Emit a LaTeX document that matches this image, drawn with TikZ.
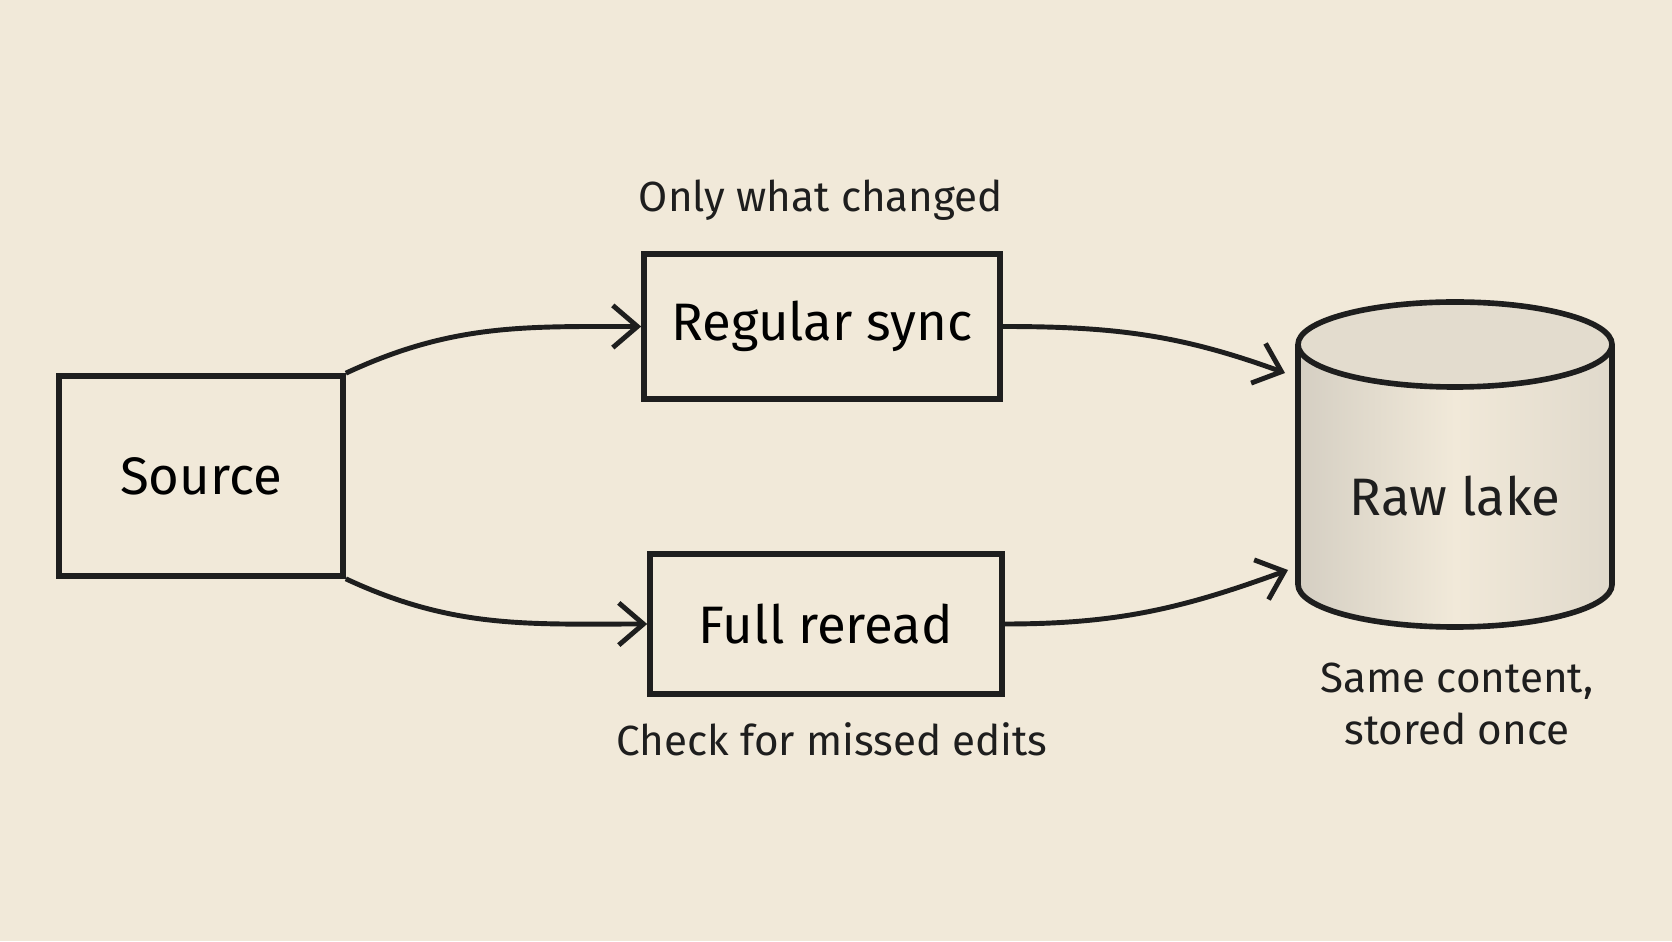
\documentclass[tikz,border=0pt]{standalone}
\usepackage{fontspec}
\setmainfont{Fira Sans}
\usetikzlibrary{arrows.meta}
\definecolor{paper}{HTML}{F1E9D9}
\definecolor{ink}{HTML}{1E1E1E}
\tikzset{
  box/.style={draw=ink, line width=1.6pt, minimum width=#1, font=\fontsize{15}{18}\selectfont},
  note/.style={font=\fontsize{12}{15}\selectfont, text=ink, align=center},
  flow/.style={draw=ink, line width=1.4pt, -{Straight Barb[length=7pt,width=12pt,line width=1.4pt]}}
}
\begin{document}
\begin{tikzpicture}
        % Background
        \fill [paper] (0,0) rectangle (16.72,9.41);
        \useasboundingbox (0,0) rectangle (16.72,9.41);
        % Boxes
        \node[box=2.84cm, minimum height=2cm] (src) at (2.01,4.65) {Source};
        \node[box=3.56cm, minimum height=1.45cm] (sync) at (8.22,6.145) {Regular sync};
        \node[box=3.52cm, minimum height=1.4cm] (full) at (8.26,3.17) {Full reread};
        % Raw lake cylinder
        \shade [left color=gray!25!paper, right color=gray!15!paper, middle color=paper] (12.98,5.965) -- (12.98,3.565) arc (180:360:1.57 and 0.425) -- (16.12,5.965) -- cycle;
        \fill [gray!12!paper] (14.55,5.965) ellipse (1.57 and 0.425);
        \draw [ink, line width=1.6pt] (12.98,5.965) -- (12.98,3.565) arc (180:360:1.57 and 0.425) -- (16.12,5.965);
        \draw [ink, line width=1.6pt] (14.55,5.965) ellipse (1.57 and 0.425);
        \node[font=\fontsize{15}{18}\selectfont, text=ink] (lake) at (14.55,4.45) {Raw lake};
        % Notes
        \node[note] (n1) at (8.21,7.41) {Only what changed};
        \node[note] (n2) at (8.32,2.02) {Check for missed edits};
        \node[note, align=center] (n3) at (14.57,2.37) {Same content,\\ stored once};
        % Connector ends
        \coordinate (lakeA) at (12.85,5.68);
        \coordinate (lakeB) at (12.88,3.71);
        % Connectors
        \draw[flow] (src.north east) to[out=25, in=180] (sync.west);
        \draw[flow] (src.south east) to[out=-25, in=180] (full.west);
        \draw[flow] (sync.east) to[out=0, in=160] (lakeA);
        \draw[flow] (full.east) to[out=0, in=-160] (lakeB);
\end{tikzpicture}
\end{document}
